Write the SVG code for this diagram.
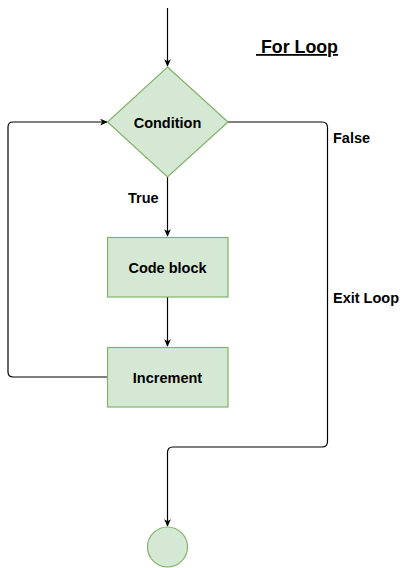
<svg xmlns="http://www.w3.org/2000/svg" width="408" height="568" viewBox="0 0 408 568">
<style>
.shape{fill:#d5e8d4;stroke:#82b366;stroke-width:1.2}
.edge{fill:none;stroke:#000;stroke-width:1.2}
.lbl{font-family:"Liberation Sans",Arial,sans-serif;font-weight:bold;font-size:14.5px;fill:#000}
.c{text-anchor:middle}
</style>
<defs>
<marker id="arr" viewBox="0 0 10 10" refX="9" refY="5" markerWidth="7.5" markerHeight="7.5" orient="auto" markerUnits="userSpaceOnUse">
<path d="M0,0.5 L10,5 L0,9.5 L2.5,5 z" fill="#000"/>
</marker>
</defs>
<rect width="408" height="568" fill="#fff"/>
<g id="connectors">
<path class="edge" d="M167.5,8 V66" marker-end="url(#arr)"/>
<path class="edge" d="M167.5,177 V236" marker-end="url(#arr)"/>
<path class="edge" d="M167.5,297 V346" marker-end="url(#arr)"/>
<path class="edge" d="M107,377 H13 Q8,377 8,372 V127 Q8,122 13,122 H107" marker-end="url(#arr)"/>
<path class="edge" d="M228,122 H322 Q327.5,122 327.5,127.5 V441.5 Q327.5,447 322,447 H173 Q167.5,447 167.5,452.5 V526" marker-end="url(#arr)"/>
</g>
<g id="condition">
<polygon class="shape" points="167.5,67 228,122 167.5,177 107.5,122"/>
<text class="lbl c" x="167.5" y="127.5">Condition</text>
</g>
<g id="code-block">
<rect class="shape" x="107.5" y="237.5" width="120.5" height="59.5"/>
<text class="lbl c" x="167.5" y="272.5">Code block</text>
</g>
<g id="increment">
<rect class="shape" x="107.5" y="347.5" width="120.5" height="59.5"/>
<text class="lbl c" x="167.5" y="382.5">Increment</text>
</g>
<g id="end">
<circle class="shape" cx="167.5" cy="547" r="20"/>
</g>
<g id="labels">
<text class="lbl" x="128" y="203">True</text>
<text class="lbl" x="333" y="143">False</text>
<text class="lbl" x="333" y="303">Exit Loop</text>
<text class="lbl" x="256" y="53" style="font-size:17.8px;text-decoration:underline;white-space:pre" xml:space="preserve"> For Loop</text>
</g>
</svg>
